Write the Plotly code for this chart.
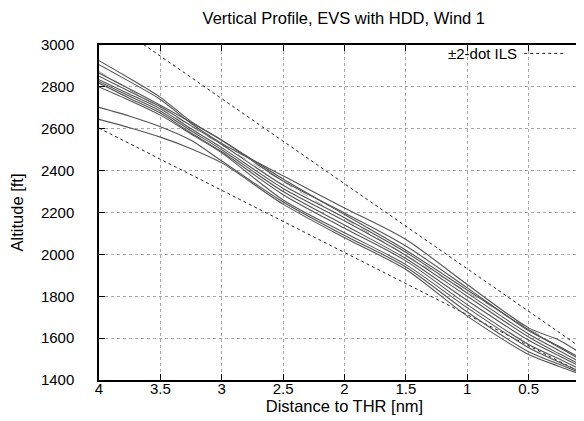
import plotly.graph_objects as go

# Distance to threshold [nm]
dist = [4, 3.75, 3.5, 3.25, 3, 2.5, 2, 1.5, 1, 0.5, 0.25, 0]

# Flight profiles, altitude [ft]
run_01 = [2925, 2840, 2750, 2635, 2545, 2360, 2190, 2020, 1830, 1640, 1555, 1470]
run_02 = [2906, 2825, 2740, 2625, 2530, 2375, 2222, 2071, 1856, 1649, 1590, 1498]
run_03 = [2866, 2790, 2712, 2630, 2545, 2350, 2198, 2040, 1840, 1635, 1560, 1480]
run_04 = [2851, 2778, 2705, 2615, 2525, 2330, 2175, 2010, 1815, 1620, 1540, 1460]
run_05 = [2834, 2765, 2695, 2600, 2510, 2315, 2160, 1995, 1800, 1605, 1525, 1450]
run_06 = [2826, 2755, 2685, 2590, 2500, 2300, 2140, 1980, 1780, 1590, 1515, 1440]
run_07 = [2818, 2745, 2675, 2580, 2490, 2285, 2125, 1969, 1760, 1570, 1500, 1430]
run_08 = [2800, 2735, 2665, 2575, 2485, 2260, 2103, 1951, 1745, 1554, 1485, 1420]
run_09 = [2702, 2660, 2610, 2545, 2446, 2250, 2090, 1940, 1725, 1535, 1475, 1415]
run_10 = [2645, 2605, 2560, 2505, 2437, 2240, 2079, 1928, 1705, 1522, 1465, 1411]
runs = [run_01, run_02, run_03, run_04, run_05, run_06, run_07, run_08, run_09, run_10]

# ILS reference lines (end points at 4 nm and 0 nm)
ils_dist = [4, 0]
ils_upper = [3150, 1525]
ils_lower = [2603, 1415]
ils_centre = [2874, 1470]

x_ticks = [4, 3.5, 3, 2.5, 2, 1.5, 1, 0.5, 0]
x_ticktext = ["4", "3.5", "3", "2.5", "2", "1.5", "1", "0.5", "0"]
y_ticks = [1400, 1600, 1800, 2000, 2200, 2400, 2600, 2800, 3000]

FONT = "Liberation Sans, Arial, Helvetica, sans-serif"

fig = go.Figure()

for ys in (ils_upper, ils_lower):
    fig.add_trace(go.Scatter(x=ils_dist, y=ys, mode="lines",
                             line=dict(color="#222222", width=1, dash="dot"),
                             showlegend=False, hoverinfo="skip"))
fig.add_trace(go.Scatter(x=ils_dist, y=ils_centre, mode="lines",
                         line=dict(color="#aaaaaa", width=1, dash="dash"),
                         showlegend=False, hoverinfo="skip"))

for ys in runs:
    fig.add_trace(go.Scatter(x=dist, y=ys, mode="lines",
                             line=dict(color="#555555", width=1.1, shape="spline", smoothing=0.8),
                             showlegend=False))

axis_common = dict(
    showline=True, linecolor="black", linewidth=1.5, mirror="ticks",
    ticks="inside", ticklen=6, tickcolor="black", tickwidth=1,
    showgrid=True, gridcolor="#a8a8a8", gridwidth=1, griddash="dot",
    zeroline=False, tickfont=dict(family=FONT, size=15, color="black"),
)

fig.update_xaxes(range=[4, 0], tickvals=x_ticks, ticktext=x_ticktext,
                 title=dict(text="Distance to THR [nm]", font=dict(family=FONT, size=16.5, color="black"), standoff=3),
                 ticklabelstandoff=-6, **axis_common)
fig.update_yaxes(range=[1400, 3000], tickvals=y_ticks,
                 title=dict(text="Altitude [ft]", font=dict(family=FONT, size=16.5, color="black"), standoff=14),
                 ticklabelstandoff=20, **axis_common)

# gnuplot-style key: text then sample
fig.add_annotation(xref="paper", yref="paper", x=0.855, y=0.975, xanchor="right", yanchor="middle",
                   text="±2-dot ILS", showarrow=False, font=dict(family=FONT, size=15, color="black"))
fig.add_shape(type="line", xref="paper", yref="paper", x0=0.866, x1=0.946, y0=0.975, y1=0.975,
              line=dict(color="#222222", width=1, dash="dot"))

fig.update_layout(
    width=584, height=421,
    margin=dict(l=91, r=0, t=37, b=49),
    paper_bgcolor="white", plot_bgcolor="white",
    title=dict(text="Vertical Profile, EVS with HDD, Wind 1", x=0.575, xanchor="center", y=0.975, yanchor="middle",
               font=dict(family=FONT, size=16.5, color="black")),
    showlegend=False,
)

fig.write_html("out.html")
